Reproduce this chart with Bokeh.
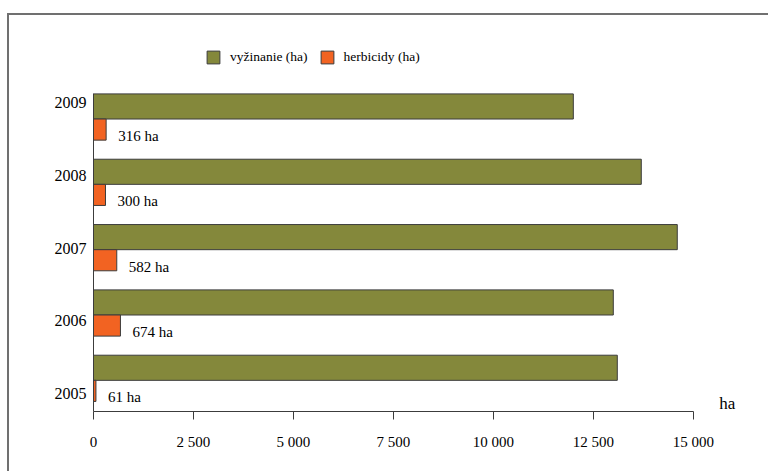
from bokeh.plotting import figure
from bokeh.models import Range1d, FixedTicker, Legend, LegendItem, Label, ColumnDataSource
from bokeh.core.properties import value
from bokeh.embed import file_html
from bokeh.resources import INLINE

years = ["2005", "2006", "2007", "2008", "2009"]
vyzinanie = [13100, 13000, 14600, 13700, 12000]
herbicidy = [61, 674, 582, 300, 316]
x_ticks = [0, 2500, 5000, 7500, 10000, 12500, 15000]
x_tick_labels = ["0", "2 500", "5 000", "7 500", "10 000", "12 500", "15 000"]
series_names = ["vyžinanie (ha)", "herbicidy (ha)"]
unit = "ha"

GREEN = "#84883b"
ORANGE = "#f26322"
EDGE = "#3c3c3c"
FONT = "Liberation Serif"

step = 65.0            # pixels per category
gh = 25 / step
oh = 21 / step
idx = list(range(len(years)))
n = len(years)

X_MAX = 15000
PX_PER_X = 598 / X_MAX
frame_w = 675
frame_h = 394
y0 = -31 / step
y_end = y0 + frame_h / step
x_end = frame_w / PX_PER_X

p = figure(width=761, height=458, output_backend="svg", toolbar_location=None,
           x_range=Range1d(0, x_end), y_range=Range1d(y0, y_end),
           min_border_left=84, min_border_right=0, min_border_top=0, min_border_bottom=62,
           styles={"border-left": "2px solid #707070", "border-top": "2px solid #707070",
                   "margin-left": "7px", "margin-top": "13px"})
p.outline_line_color = None
p.xgrid.visible = False
p.ygrid.visible = False

src = ColumnDataSource(dict(
    g=vyzinanie, h=herbicidy,
    gy=[k + gh / 2 for k in idx],
    hy=[k - oh / 2 for k in idx],
    ty=[k - oh + 4 / step for k in idx],
    txt=[f"{v} {unit}" for v in herbicidy],
))

rg = p.hbar(y="gy", right="g", left=0, height=gh, source=src,
            fill_color=GREEN, line_color=EDGE, line_width=1)
ro = p.hbar(y="hy", right="h", left=0, height=oh, source=src,
            fill_color=ORANGE, line_color=EDGE, line_width=1)
p.text(x="h", y="ty", text="txt", source=src, x_offset=12, text_baseline="middle",
       text_font=value(FONT), text_font_size="15px", text_color="black")

# x axis
xa = p.xaxis[0]
xa.bounds = (0, X_MAX)
xa.ticker = FixedTicker(ticks=x_ticks)
xa.major_label_overrides = {t: l for t, l in zip(x_ticks, x_tick_labels)}
xa.major_tick_out = 8
xa.major_tick_in = 0
xa.minor_tick_line_color = None
xa.axis_line_color = EDGE
xa.major_tick_line_color = EDGE
xa.major_label_text_font = FONT
xa.major_label_text_font_size = "15px"
xa.major_label_text_color = "black"
xa.major_label_standoff = 14

# y axis (year labels)
ya = p.yaxis[0]
ya.bounds = (y0, n - 1 + gh)
ypos = [-0.2 + 1.112 * k for k in idx]
ya.ticker = FixedTicker(ticks=ypos)
ya.major_label_overrides = {t: y for t, y in zip(ypos, years)}
ya.major_tick_line_color = None
ya.major_tick_out = 0
ya.major_tick_in = 0
ya.minor_tick_line_color = None
ya.axis_line_color = EDGE
ya.major_label_text_font = FONT
ya.major_label_text_font_size = "16px"
ya.major_label_text_color = "black"
ya.major_label_standoff = 7

p.add_layout(Label(x=X_MAX, y=y0, x_offset=26, y_offset=8, text=unit,
                   text_font=FONT, text_font_size="17px", text_baseline="middle",
                   text_color="black"))

legend = Legend(items=[LegendItem(label=series_names[0], renderers=[rg]),
                       LegendItem(label=series_names[1], renderers=[ro])],
                orientation="horizontal", location=(112, 346),
                glyph_width=16, glyph_height=16, label_height=16, label_standoff=9,
                spacing=11, padding=0, margin=0, border_line_alpha=0,
                background_fill_alpha=0, label_text_font=FONT,
                label_text_font_size="13.5px", label_text_color="black")
p.add_layout(legend)

open("out.html", "w").write(file_html(p, INLINE))
